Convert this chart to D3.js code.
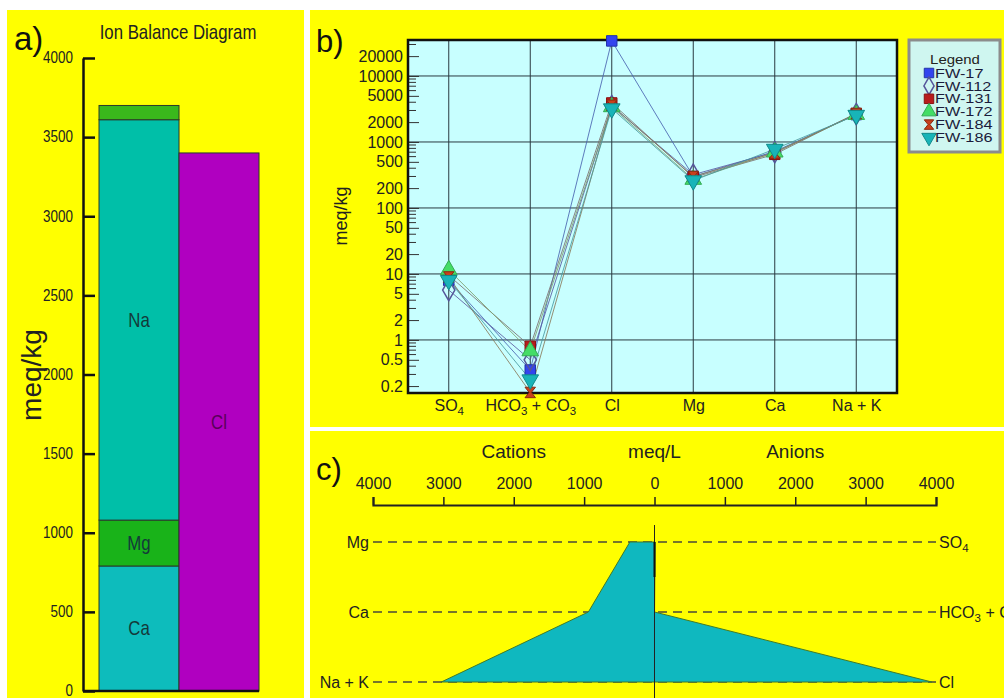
<!DOCTYPE html>
<html>
<head>
<meta charset="utf-8">
<script src="https://cdn.jsdelivr.net/npm/d3@7"></script>
<style>
  body { margin: 0; background: #fff; }
  svg { display: block; }
</style>
</head>
<body>
<svg id="chart"></svg>
<script>
// ---- data ----
// a) ion balance, meq/kg
const cationNames = ['Ca', 'Mg', 'Na', 'K']
const cationValues = [790, 290, 2530, 90]
const anionNames = ['Cl']
const anionValues = [3400]
const balanceTicks = [0, 500, 1000, 1500, 2000, 2500, 3000, 3500, 4000]

// b) semi-log plot, meq/kg
const ions = ['SO4', 'HCO3 + CO3', 'Cl', 'Mg', 'Ca', 'Na + K']
const wells = ['FW-17', 'FW-112', 'FW-131', 'FW-172', 'FW-184', 'FW-186']
const fw17 = [8, 0.35, 34000, 300, 720, 2600]
const fw112 = [5.7, 0.5, 3500, 320, 700, 2650]
const fw131 = [9.5, 0.8, 3900, 290, 650, 2700]
const fw172 = [11.5, 0.68, 3400, 270, 700, 2600]
const fw184 = [9, 0.16, 3600, 300, 680, 2700]
const fw186 = [8, 0.25, 3200, 260, 780, 2550]
const logTicks = [20000, 10000, 5000, 2000, 1000, 500, 200, 100, 50, 20, 10, 5, 2, 1, 0.5, 0.2]

// c) stiff diagram, meq/L
const stiffCations = ['Mg', 'Ca', 'Na + K']
const stiffCationValues = [350, 940, 3030]
const stiffAnions = ['SO4', 'HCO3 + CO3', 'Cl']
const stiffAnionValues = [9, 0.6, 3940]
const stiffTicks = [-4000, -3000, -2000, -1000, 0, 1000, 2000, 3000, 4000]

const SANS = "'Liberation Sans',Arial,sans-serif"
const NARROW_X = 0.84   // squeeze factor to fake a narrow face
const YEL = '#ffff00'

const svg = d3.select('#chart').attr('width', 1004).attr('height', 698)
svg.append('rect').attr('width', 1004).attr('height', 698).attr('fill', '#fff')

// writes a label with digits as subscripts (SO4, HCO3...)
function chemText(t, label) {
    let down = false
    label.split(/(\d+)/).filter(s => s).forEach(p => {
        const isSub = /^\d+$/.test(p)
        const ts = t.append('tspan').text(p)
        if (isSub) {
            ts.attr('font-size', '0.72em')
            if (!down) ts.attr('dy', 4)
            down = true
        } else {
            if (down) ts.attr('dy', -4)
            down = false
        }
    })
}

const narrowText = (g, x, y, size, txt) => g.append('text')
    .attr('transform', `translate(${x},${y}) scale(${NARROW_X},1)`)
    .attr('text-anchor', 'middle').attr('font-family', SANS).attr('font-size', size).text(txt)

// ================= a) =================
const ga = svg.append('g')
ga.append('rect').attr('x', 7).attr('y', 10).attr('width', 297).attr('height', 688).attr('fill', YEL)

ga.append('text').attr('x', 14).attr('y', 50).attr('font-family', SANS).attr('font-size', 33).attr('fill', '#111').text('a)')
narrowText(ga, 178, 39, 20, 'Ion Balance Diagram').attr('fill', '#222')

const ya = d3.scaleLinear().domain([0, 4000]).range([691, 58])
const xa = d3.scaleBand().domain(['cations', 'anions']).range([99, 259])

const stackBar = (names, values, key, colors, labelFill) => {
    let base = 0
    names.forEach((n, i) => {
        const top = base + values[i]
        ga.append('rect')
            .attr('x', xa(key)).attr('width', xa.bandwidth())
            .attr('y', ya(top)).attr('height', ya(base) - ya(top))
            .attr('fill', colors[i]).attr('stroke', '#2a3a2a').attr('stroke-width', 1)
        if (values[i] > 200) {
            narrowText(ga, xa(key) + xa.bandwidth() / 2, ya((base + top) / 2), 20, n)
                .attr('dy', '0.35em').attr('fill', labelFill)
        }
        base = top
    })
}
stackBar(cationNames, cationValues, 'cations', ['#0dbcbc', '#19b319', '#00bfa8', '#3ab81c'], '#143a3a')
stackBar(anionNames, anionValues, 'anions', ['#b000c0'], '#5a005a')

ga.append('g')
    .attr('transform', 'translate(83,0)')
    .call(d3.axisLeft(ya).tickValues(balanceTicks).tickFormat(d => String(d))
        .tickSizeInner(-12).tickSizeOuter(0).tickPadding(10))
    .call(g => g.selectAll('line, path').attr('stroke', '#111').attr('stroke-width', 2.5))
    .call(g => g.selectAll('text').attr('font-family', SANS).attr('font-size', 16).attr('fill', '#222')
        .attr('transform', `scale(${NARROW_X},1)`).attr('x', -10 / NARROW_X).attr('dy', '0.3em'))

ga.append('line').attr('x1', 83).attr('x2', xa.range()[1]).attr('y1', ya(0)).attr('y2', ya(0))
    .attr('stroke', '#111').attr('stroke-width', 2.5)

ga.append('text').attr('transform', 'translate(41,375) rotate(-90)').attr('text-anchor', 'middle')
    .attr('font-family', SANS).attr('font-size', 28).attr('fill', '#222').text('meq/kg')

// ================= b) =================
const gb = svg.append('g')
gb.append('rect').attr('x', 310).attr('y', 10).attr('width', 694).attr('height', 417).attr('fill', YEL)
gb.append('text').attr('x', 316).attr('y', 52).attr('font-family', SANS).attr('font-size', 31).attr('fill', '#111').text('b)')

const pb = {left: 408, right: 897, top: 40, bottom: 393}
const xb = d3.scalePoint().domain(ions).range([pb.left, pb.right]).padding(0.5)
const yb = d3.scaleLog().domain([0.157, 35100]).range([pb.bottom, pb.top])

gb.append('rect').attr('x', pb.left).attr('y', pb.top)
    .attr('width', pb.right - pb.left).attr('height', pb.bottom - pb.top).attr('fill', '#c8ffff')

// grid
gb.append('g').selectAll('line').data(ions).join('line')
    .attr('x1', d => xb(d)).attr('x2', d => xb(d)).attr('y1', pb.top).attr('y2', pb.bottom)
    .attr('stroke', '#2a3a40').attr('stroke-width', 1)
gb.append('g').selectAll('line').data([1, 10, 100, 1000, 10000]).join('line')
    .attr('x1', pb.left).attr('x2', pb.right).attr('y1', d => yb(d)).attr('y2', d => yb(d))
    .attr('stroke', '#2a3a40').attr('stroke-width', 1)

// minor ticks
const minor = []
for (let e = -1; e <= 4; e++) for (let m = 1; m <= 9; m++) {
    const v = m * Math.pow(10, e)
    if (v >= 0.157 && v <= 35100 && !logTicks.includes(v)) minor.push(v)
}
gb.append('g').selectAll('line').data(minor).join('line')
    .attr('x1', pb.left).attr('x2', pb.left + 8).attr('y1', d => yb(d)).attr('y2', d => yb(d))
    .attr('stroke', '#333').attr('stroke-width', 1)

gb.append('g')
    .attr('transform', `translate(${pb.left},0)`)
    .call(d3.axisLeft(yb).tickValues(logTicks).tickFormat(d => String(d)).tickSizeInner(-11).tickSizeOuter(0).tickPadding(5))
    .call(g => g.select('.domain').remove())
    .call(g => g.selectAll('line').attr('stroke', '#333'))
    .call(g => g.selectAll('text').attr('font-family', SANS).attr('font-size', 16).attr('fill', '#222'))

gb.append('g')
    .attr('transform', `translate(0,${pb.bottom})`)
    .call(d3.axisBottom(xb).tickSize(0).tickPadding(7))
    .call(g => g.select('.domain').remove())
    .call(g => g.selectAll('text').attr('font-family', SANS).attr('font-size', 16).attr('fill', '#222')
        .each(function (d) { const t = d3.select(this); t.text(null); chemText(t, d) }))

gb.append('rect').attr('x', pb.left).attr('y', pb.top)
    .attr('width', pb.right - pb.left).attr('height', pb.bottom - pb.top)
    .attr('fill', 'none').attr('stroke', '#111').attr('stroke-width', 2.5)

gb.append('text').attr('transform', 'translate(347,216) rotate(-90)').attr('text-anchor', 'middle')
    .attr('font-family', SANS).attr('font-size', 18).attr('fill', '#222').text('meq/kg')

const series = [fw17, fw112, fw131, fw172, fw184, fw186]
const lineColors = ['#4a64b0', '#5a5aa0', '#7a7070', '#7f9f6f', '#8a7a5a', '#4a9aa0']
const hourglass = {draw(ctx, size) {
    const r = Math.sqrt(size) / 2
    ctx.moveTo(-r, -r); ctx.lineTo(r, -r); ctx.lineTo(r * 0.2, 0); ctx.lineTo(r, r)
    ctx.lineTo(-r, r); ctx.lineTo(-r * 0.2, 0); ctx.closePath()
}}
const markers = [
    {type: d3.symbolSquare, fill: '#3344ee', stroke: '#2233aa', rot: 0},
    {type: d3.symbolDiamond, fill: 'none', stroke: '#55559a', rot: 0},
    {type: d3.symbolSquare, fill: '#b81c1c', stroke: '#8a1010', rot: 0},
    {type: d3.symbolTriangle, fill: '#44dd66', stroke: '#33aa55', rot: 0},
    {type: hourglass, fill: '#c8401c', stroke: '#8a2a10', rot: 0},
    {type: d3.symbolTriangle, fill: '#18b4b8', stroke: '#108a8a', rot: 180}
]
const sizes = [110, 130, 110, 120, 110, 120]

const line = d3.line().x((d, i) => xb(ions[i])).y(d => yb(d))
gb.append('g').selectAll('path').data(series).join('path')
    .attr('d', line).attr('fill', 'none')
    .attr('stroke', (d, i) => lineColors[i]).attr('stroke-width', 1).attr('opacity', 0.85)

series.forEach((s, k) => {
    const m = markers[k]
    gb.append('g').selectAll('path').data(s).join('path')
        .attr('transform', (d, i) => `translate(${xb(ions[i])},${yb(d)}) rotate(${m.rot})`)
        .attr('d', d3.symbol(m.type, sizes[k]))
        .attr('fill', m.fill).attr('stroke', m.stroke).attr('stroke-width', m.fill === 'none' ? 1.5 : 1)
})

// legend
const lg = gb.append('g')
lg.append('rect').attr('x', 909).attr('y', 40).attr('width', 91).attr('height', 112)
    .attr('fill', '#cff6f0').attr('stroke', '#8c8c8c').attr('stroke-width', 3)
lg.append('text').attr('transform', 'translate(955,64) scale(1.15,1)').attr('text-anchor', 'middle')
    .attr('font-family', SANS).attr('font-size', 13).attr('fill', '#222').text('Legend')
wells.forEach((w, k) => {
    const yy = 73 + k * 12.9
    const m = markers[k]
    lg.append('path').attr('transform', `translate(929,${yy}) rotate(${m.rot})`)
        .attr('d', d3.symbol(m.type, 90))
        .attr('fill', m.fill).attr('stroke', m.stroke).attr('stroke-width', m.fill === 'none' ? 1.5 : 1)
    lg.append('text').attr('transform', `translate(935,${yy}) scale(1.25,1)`).attr('dy', '0.36em')
        .attr('font-family', SANS).attr('font-size', 13).attr('fill', '#1a1a3a').text(w)
})

// ================= c) =================
const gc = svg.append('g')
gc.append('rect').attr('x', 310).attr('y', 431).attr('width', 694).attr('height', 267).attr('fill', YEL)
gc.append('text').attr('x', 316).attr('y', 480).attr('font-family', SANS).attr('font-size', 31).attr('fill', '#111').text('c)')

const xc = d3.scaleLinear().domain([-4000, 4000]).range([373, 936])
const yc = d3.scalePoint().domain([0, 1, 2]).range([542, 682])

const titleC = [['Cations', -2000], ['meq/L', 0], ['Anions', 2000]]
gc.selectAll('.ttl').data(titleC).join('text')
    .attr('x', d => xc(d[1])).attr('y', 458).attr('text-anchor', 'middle')
    .attr('font-family', SANS).attr('font-size', 19).attr('fill', '#222').text(d => d[0])

gc.append('g')
    .attr('transform', 'translate(0,505)')
    .call(d3.axisTop(xc).tickValues(stiffTicks).tickFormat(d => String(Math.abs(d))).tickSizeInner(8).tickSizeOuter(8).tickPadding(8))
    .call(g => g.selectAll('line, path').attr('stroke', '#222').attr('stroke-width', 1.5))
    .call(g => g.select('.domain').attr('stroke-width', 2.2))
    .call(g => g.selectAll('text').attr('font-family', SANS).attr('font-size', 16).attr('fill', '#222'))

// dashed guides
gc.append('g').selectAll('line').data([0, 1, 2]).join('line')
    .attr('x1', xc(-4000)).attr('x2', xc(4000)).attr('y1', d => yc(d)).attr('y2', d => yc(d))
    .attr('stroke', '#4a4a3a').attr('stroke-width', 1.4).attr('stroke-dasharray', '9,6')

const poly = [
    [-stiffCationValues[0], 0], [stiffAnionValues[0], 0], [stiffAnionValues[1], 1],
    [stiffAnionValues[2], 2], [-stiffCationValues[2], 2], [-stiffCationValues[1], 1]
]
gc.append('path')
    .attr('d', d3.line().x(d => xc(d[0])).y(d => yc(d[1])).curve(d3.curveLinearClosed)(poly))
    .attr('fill', '#0fb8bf').attr('stroke', '#3f7a2a').attr('stroke-width', 1)

gc.append('line').attr('x1', xc(0)).attr('x2', xc(0)).attr('y1', 525).attr('y2', 698)
    .attr('stroke', '#222').attr('stroke-width', 1)
gc.append('line').attr('x1', xc(0)).attr('x2', xc(0)).attr('y1', yc(0)).attr('y2', (yc(0) + yc(1)) / 2)
    .attr('stroke', '#111').attr('stroke-width', 2)

gc.selectAll('.lab').data(stiffCations).join('text')
    .attr('x', xc(-4000) - 4).attr('y', (d, i) => yc(i)).attr('dy', '0.35em').attr('text-anchor', 'end')
    .attr('font-family', SANS).attr('font-size', 16).attr('fill', '#222').text(d => d)
gc.selectAll('.rab').data(stiffAnions).join('text')
    .attr('x', xc(4000) + 3).attr('y', (d, i) => yc(i)).attr('dy', '0.35em')
    .attr('font-family', SANS).attr('font-size', 16).attr('fill', '#222')
    .each(function (d) { chemText(d3.select(this), d) })
</script>
</body>
</html>
